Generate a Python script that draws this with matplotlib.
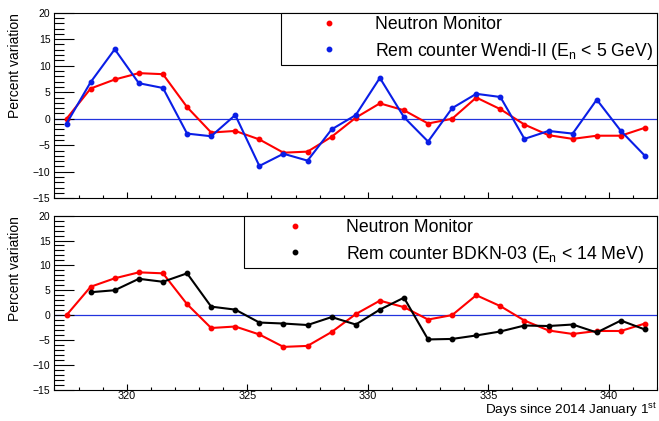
import matplotlib
matplotlib.use("Agg")
import matplotlib.pyplot as plt
from matplotlib.lines import Line2D
from matplotlib.ticker import MultipleLocator

plt.rcParams["font.family"] = ["Liberation Sans", "DejaVu Sans"]
plt.rcParams["mathtext.default"] = "regular"

# daily averages, days counted from 2014 January 1st
days = [317.5, 318.5, 319.5, 320.5, 321.5, 322.5, 323.5, 324.5, 325.5,
        326.5, 327.5, 328.5, 329.5, 330.5, 331.5, 332.5, 333.5, 334.5,
        335.5, 336.5, 337.5, 338.5, 339.5, 340.5, 341.5]

neutron_monitor = [0.0, 5.7, 7.4, 8.6, 8.4, 2.2, -2.6, -2.3, -3.9, -6.4,
                   -6.2, -3.4, 0.2, 2.9, 1.6, -0.9, 0.0, 4.0, 1.8, -1.1,
                   -3.1, -3.8, -3.2, -3.2, -1.7]

wendi = [-0.9, 6.9, 13.1, 6.7, 5.8, -2.8, -3.3, 0.7, -8.9, -6.6, -7.9,
         -2.0, 0.7, 7.7, 0.3, -4.3, 2.0, 4.7, 4.1, -3.8, -2.3, -2.8, 3.6,
         -2.3, -7.0]

# BDKN-03 has no value for the first day
bdkn_days = days[1:]
bdkn = [4.6, 5.0, 7.3, 6.7, 8.4, 1.7, 1.1, -1.5, -1.7, -2.0, -0.4, -1.9,
        1.1, 3.5, -4.9, -4.8, -4.1, -3.3, -2.1, -2.2, -1.9, -3.5, -1.1, -2.9]

LW = 1.5
MS = 3.2


def style_axis(ax):
    ax.set_xlim(317, 342)
    ax.set_ylim(-15, 20)
    ax.xaxis.set_major_locator(MultipleLocator(5))
    ax.xaxis.set_minor_locator(MultipleLocator(1))
    ax.yaxis.set_major_locator(MultipleLocator(5))
    ax.yaxis.set_minor_locator(MultipleLocator(1))
    ax.tick_params(which="both", direction="in", top=False, right=False,
                   width=0.8, colors="black")
    ax.tick_params(axis="y", which="major", length=14.4, labelsize=7.5, pad=3)
    ax.tick_params(axis="y", which="minor", length=7.2)
    ax.tick_params(axis="x", which="major", length=4.3, labelsize=7.8, pad=1)
    ax.tick_params(axis="x", which="minor", length=2.2)
    for sp in ax.spines.values():
        sp.set_linewidth(0.8)
    ax.set_ylabel("Percent variation", fontsize=10, loc="top", labelpad=8)
    ax.axhline(0, color="#2233dd", lw=0.9, zorder=1)


def add_legend(ax, colors, labels, x0, handlelength, handletextpad):
    handles = [Line2D([], [], ls="none", marker="o", ms=MS, color=c)
               for c in colors]
    leg = ax.legend(handles, labels, loc="upper left",
                    bbox_to_anchor=(x0, 0.0, 1.0 - x0, 1.0), mode="expand",
                    borderaxespad=0, fancybox=False, framealpha=1,
                    edgecolor="black", fontsize=12.7, numpoints=1,
                    handlelength=handlelength, handletextpad=handletextpad,
                    borderpad=0.2, labelspacing=0.42)
    leg.get_frame().set_linewidth(0.8)
    return leg


fig = plt.figure(figsize=(6.59, 4.21), dpi=100)
ax_top = fig.add_axes([0.0827, 0.529, 0.9143, 0.4409])
ax_bot = fig.add_axes([0.0827, 0.0745, 0.9143, 0.4132])

# upper panel: neutron monitor against Wendi-II
style_axis(ax_top)
ax_top.tick_params(axis="x", labelbottom=False)
ax_top.plot(days, neutron_monitor, "-o", color="red", lw=LW, ms=MS, zorder=3)
ax_top.plot(days, wendi, "-o", color="#0a1ee6", lw=LW, ms=MS, zorder=4)
add_legend(ax_top, ["red", "#0a1ee6"],
           ["Neutron Monitor", "Rem counter Wendi-II (E$_{n}$ < 5 GeV)"],
           0.376, 5.04, 0.11)

# lower panel: neutron monitor against BDKN-03
style_axis(ax_bot)
ax_bot.plot(days, neutron_monitor, "-o", color="red", lw=LW, ms=MS, zorder=3)
ax_bot.plot(bdkn_days, bdkn, "-o", color="black", lw=LW, ms=MS, zorder=4)
add_legend(ax_bot, ["red", "black"],
           ["Neutron Monitor", "Rem counter BDKN-03 (E$_{n}$ < 14 MeV)"],
           0.314, 5.46, 0.15)
ax_bot.set_xlabel("Days since 2014 January 1$^{st}$", fontsize=9.7,
                  loc="right", labelpad=0)

fig.savefig("out.png", dpi=100)
